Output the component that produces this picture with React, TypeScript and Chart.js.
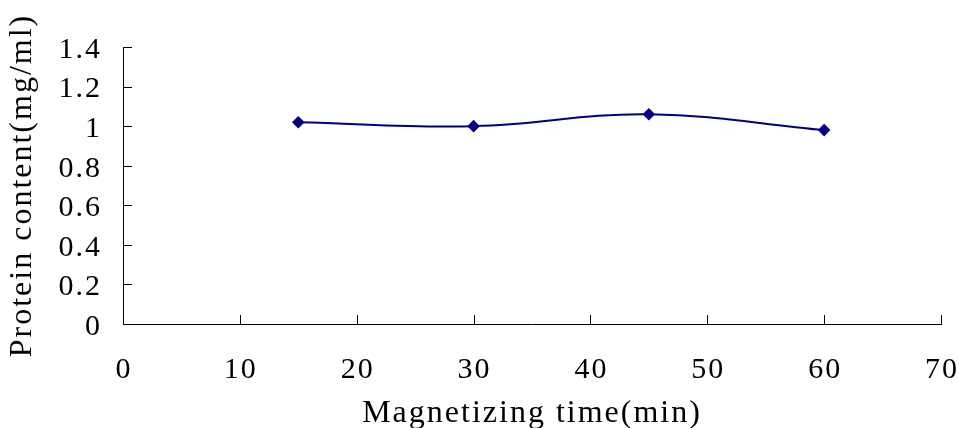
import React, { useEffect, useRef } from "react";
import { Chart, registerables } from "chart.js";

Chart.register(...registerables);

const times = [15, 30, 45, 60];
const protein = [1.02, 1.0, 1.06, 0.98];
const xTicks = [0, 10, 20, 30, 40, 50, 60, 70];
const yTicks = [0, 0.2, 0.4, 0.6, 0.8, 1, 1.2, 1.4];
const xTitle = "Magnetizing time(min)";
const yTitle = "Protein content(mg/ml)";

const FONT = "'Liberation Serif', 'Times New Roman', serif";
const SPACING = "2px";

const textSpacing = {
  id: "textSpacing",
  beforeDraw(chart: any) {
    chart.ctx.letterSpacing = SPACING;
  },
  afterDraw(chart: any) {
    chart.ctx.letterSpacing = "0px";
  },
};

const innerTicks = {
  id: "innerTicks",
  afterDraw(chart: any) {
    const { ctx } = chart;
    const xs = chart.scales.x;
    const ys = chart.scales.y;
    const area = chart.chartArea;
    ctx.save();
    ctx.strokeStyle = "#000";
    ctx.lineWidth = 1;
    ctx.beginPath();
    for (const v of xTicks) {
      const px = Math.round(xs.getPixelForValue(v)) + 0.5;
      ctx.moveTo(px, area.bottom);
      ctx.lineTo(px, area.bottom - 9);
    }
    for (const v of yTicks) {
      const py = Math.round(ys.getPixelForValue(v)) + 0.5;
      ctx.moveTo(area.left, py);
      ctx.lineTo(area.left + 9, py);
    }
    ctx.stroke();
    ctx.restore();
  },
};

export default function App() {
  const ref = useRef<HTMLCanvasElement>(null);
  useEffect(() => {
    if (!ref.current) return;
    const chart = new Chart(ref.current, {
      type: "line",
      data: {
        datasets: [
          {
            data: times.map((t, i) => ({ x: t, y: protein[i] })),
            borderColor: "#000080",
            backgroundColor: "#000080",
            borderWidth: 2,
            pointStyle: "rectRot",
            pointRadius: 6.3,
            pointBorderWidth: 0,
            tension: 0.4,
            fill: false,
          },
        ],
      },
      options: {
        responsive: false,
        animation: false,
        layout: { padding: { top: 47, right: 18, left: 0, bottom: 0 } },
        plugins: { legend: { display: false }, tooltip: { enabled: false } },
        scales: {
          x: {
            type: "linear",
            min: 0,
            max: 70,
            afterFit: (s: any) => {
              s.height = 116;
              s.paddingLeft = 0;
              s.paddingRight = 0;
            },
            afterBuildTicks: (s: any) => {
              s.ticks = xTicks.map((v) => ({ value: v }));
            },
            ticks: {
              padding: 28,
              labelOffset: 1,
              color: "#000",
              font: { family: FONT, size: 30 },
              maxRotation: 0,
            },
            grid: { display: false, drawTicks: false },
            border: { display: true, color: "#000", width: 1 },
            title: {
              display: true,
              text: xTitle,
              color: "#000",
              font: { family: FONT, size: 32 },
              padding: { top: 0, bottom: 7 },
            },
          },
          y: {
            type: "linear",
            min: 0,
            max: 1.4,
            afterFit: (s: any) => {
              s.width = 123;
              s.paddingTop = 0;
              s.paddingBottom = 0;
            },
            afterBuildTicks: (s: any) => {
              s.ticks = yTicks.map((v) => ({ value: v }));
            },
            ticks: {
              padding: 21,
              labelOffset: 3,
              color: "#000",
              font: { family: FONT, size: 30 },
              callback: (v: any) => String(Number(Number(v).toFixed(1))),
            },
            grid: { display: false, drawTicks: false },
            border: { display: true, color: "#000", width: 1 },
            title: {
              display: true,
              text: yTitle,
              color: "#000",
              font: { family: FONT, size: 32 },
              padding: { top: 3, bottom: 0 },
            },
          },
        },
      },
      plugins: [textSpacing, innerTicks],
    });
    return () => chart.destroy();
  }, []);
  return (
    <div
      style={{
        position: "fixed",
        left: 0,
        top: 0,
        width: 959,
        height: 428,
        overflow: "hidden",
        background: "#fff",
      }}
    >
      <canvas ref={ref} width={959} height={440} style={{ display: "block" }} />
    </div>
  );
}
